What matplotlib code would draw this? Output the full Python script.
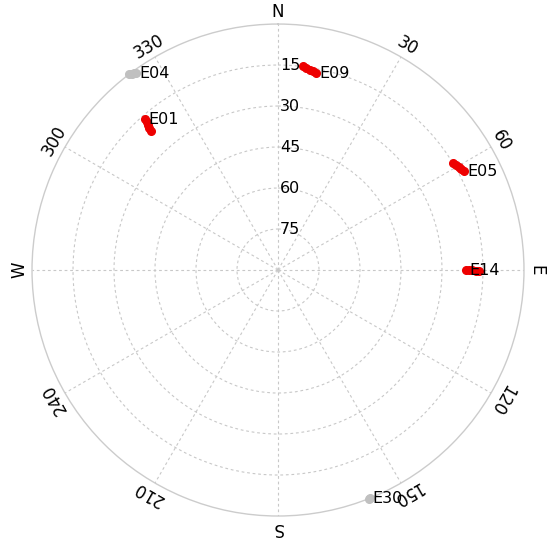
import numpy as np
import matplotlib.pyplot as plt

# satellite tracks: azimuth (deg) and elevation (deg)
sat_names = ['E04', 'E01', 'E09', 'E05', 'E14', 'E30']
sat_az = [
    [322.8, 323.3, 323.8, 324.2],
    [317.6, 317.8, 318.1, 318.4, 318.6],
    [7.0, 8.0, 9.0, 10.0, 10.9],
    [58.6, 59.5, 60.3, 61.2, 62.0],
    [90.3, 90.2, 90.1, 90.0, 90.0],
    [158.1, 158.3],
]
sat_el = [
    [0.0, 0.4, 0.8, 1.2],
    [21.1, 20.0, 18.8, 17.6, 16.4],
    [14.8, 15.3, 15.8, 16.2, 16.6],
    [15.0, 14.5, 13.9, 13.4, 12.9],
    [16.5, 17.7, 18.9, 20.0, 21.2],
    [0.0, 0.0],
]
sat_visible = [False, True, True, True, True, False]

elev_ticks = [15, 30, 45, 60, 75]
az_ticks = [0, 30, 60, 90, 120, 150, 180, 210, 240, 270, 300, 330]
az_labels = ['N', '30', '60', 'E', '120', '150', 'S', '210', '240', 'W', '300', '330']

fig = plt.figure(figsize=(5.5, 5.46), dpi=100)
ax = fig.add_axes([0.0582, 0.0549, 0.8945, 0.9011], projection='polar')
ax.set_theta_zero_location('N')
ax.set_theta_direction(-1)
ax.set_ylim(0, 90)

grid_kw = dict(color='#c8c8c8', linestyle=(0, (2.5, 2.5)), linewidth=0.8)
ax.set_thetagrids(az_ticks, [''] * len(az_ticks))
ax.set_rgrids([90 - e for e in elev_ticks], [''] * len(elev_ticks))
ax.grid(True, **grid_kw)
ax.spines['polar'].set_color('#cccccc')
ax.spines['polar'].set_linewidth(1.0)

# azimuth labels, rotated along the circle
for a, lab in zip(az_ticks, az_labels):
    ax.text(np.radians(a), 94.5, lab, rotation=-a, rotation_mode='anchor',
            ha='center', va='center', fontsize=12, color='black', clip_on=False)

# elevation labels next to the north line
for e in elev_ticks:
    ax.annotate(str(e), xy=(0, 90 - e), xytext=(1.5, 0), textcoords='offset points',
                ha='left', va='center', fontsize=11.5, color='black')

for name, az, el, vis in zip(sat_names, sat_az, sat_el, sat_visible):
    col = '#ee0000' if vis else '#c0c0c0'
    th = np.radians(az)
    r = 90 - np.array(el)
    ax.plot(th, r, color=col, linewidth=4.5, marker='o', markersize=5.5,
            solid_capstyle='round', clip_on=False, zorder=3)
    ax.annotate(name, xy=(th[-1], r[-1]), xytext=(2.5, 0), textcoords='offset points',
                ha='left', va='center', fontsize=11.5, color='black', zorder=4)

fig.savefig('out.png', dpi=100)
